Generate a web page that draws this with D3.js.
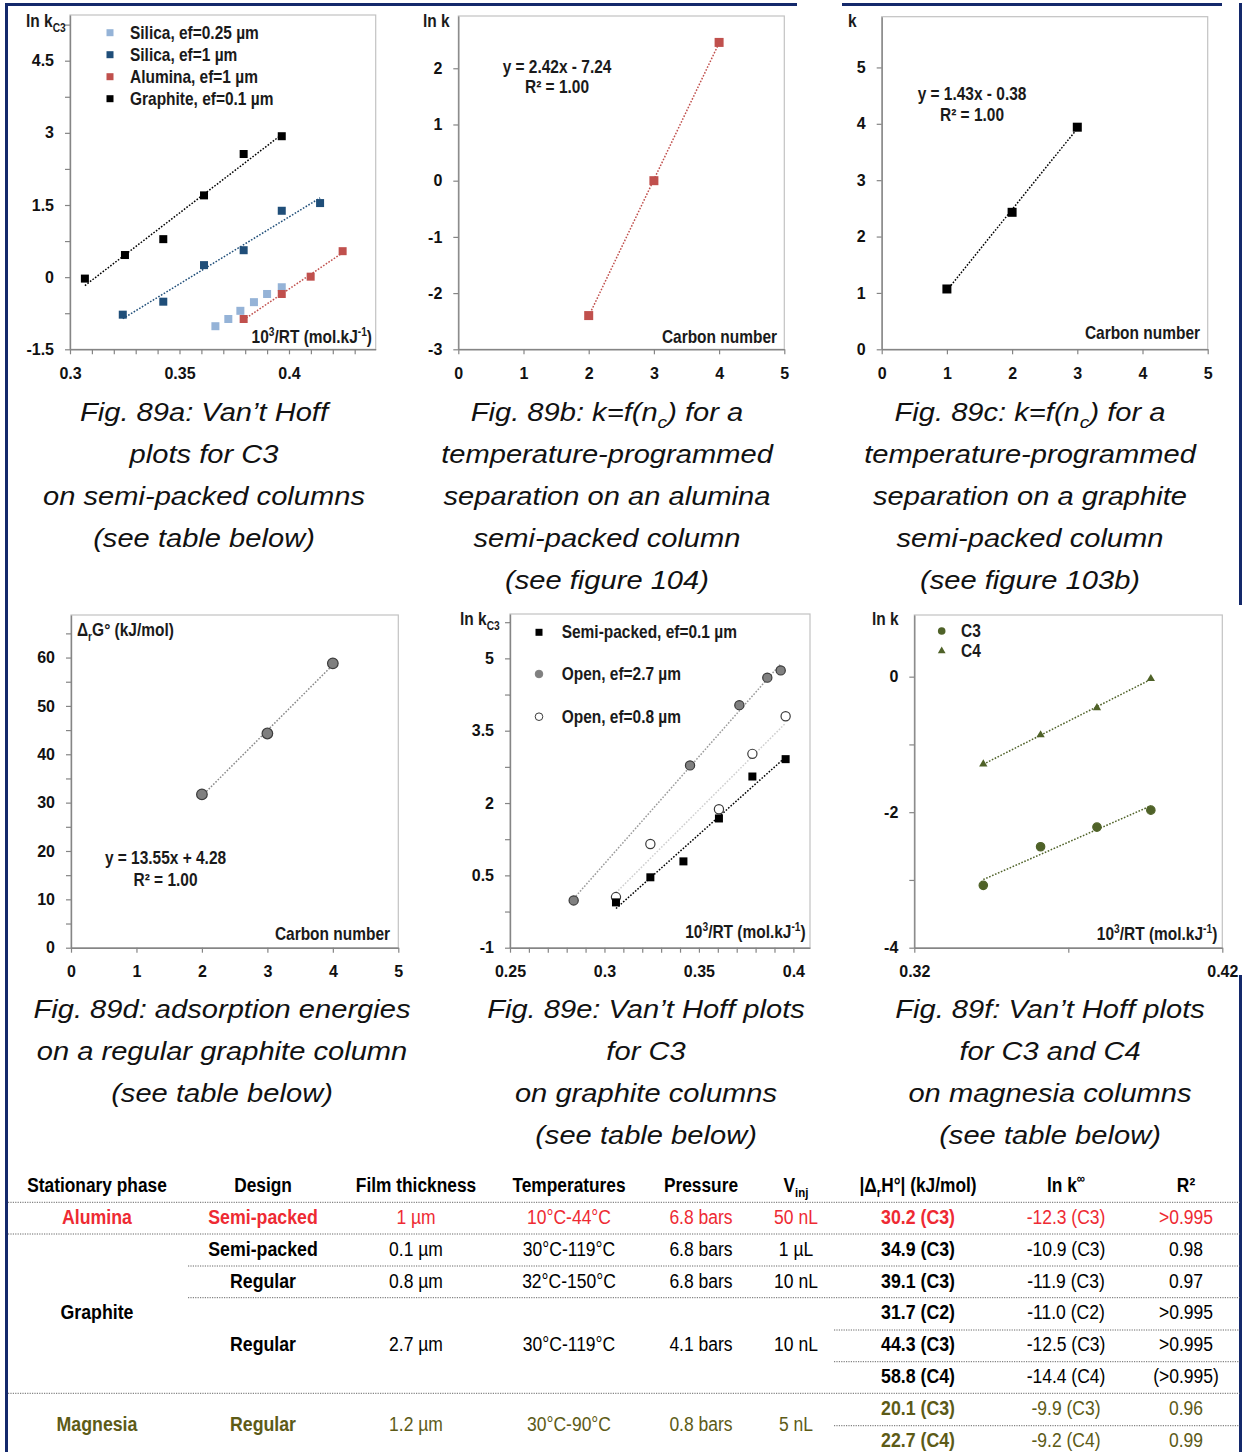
<!DOCTYPE html>
<html><head><meta charset="utf-8">
<script src="https://cdn.jsdelivr.net/npm/d3@7"></script>
<style>html,body{margin:0;padding:0;background:#fff;}svg{display:block;}</style>
</head><body>
<svg id="chart" width="1245" height="1452"></svg>
<script>
// ---------------- DATA ----------------
// Fig 89a : Van't Hoff plots (x = 10^3/RT, y = ln k C3)
const aGraphiteX = [0.3068, 0.3251, 0.3426, 0.3612, 0.3793, 0.3967];
const aGraphiteY = [-0.03, 0.46, 0.79, 1.70, 2.56, 2.93];
const aSilica1X  = [0.3241, 0.3426, 0.3612, 0.3793, 0.3967, 0.4142];
const aSilica1Y  = [-0.78, -0.51, 0.25, 0.56, 1.38, 1.54];
const aAluminaX  = [0.3793, 0.3967, 0.4099, 0.4245];
const aAluminaY  = [-0.87, -0.35, 0.01, 0.54];
const aSilica025X = [0.3664, 0.3723, 0.3778, 0.3840, 0.3900, 0.3967];
const aSilica025Y = [-1.02, -0.87, -0.70, -0.52, -0.35, -0.21];
const aLegend = ['Silica, ef=0.25 µm', 'Silica, ef=1 µm', 'Alumina, ef=1 µm', 'Graphite, ef=0.1 µm'];
const aXTicks = [0.3, 0.35, 0.4];
const aYTicks = [-1.5, 0, 1.5, 3, 4.5];

// Fig 89b : ln k = f(carbon number), alumina
const bCarbon = [2, 3, 4];
const bLnK = [-2.40, 0.00, 2.46];
const bXTicks = [0, 1, 2, 3, 4, 5];
const bYTicks = [-3, -2, -1, 0, 1, 2];

// Fig 89c : k = f(carbon number), graphite
const cCarbon = [1, 2, 3];
const cK = [1.07, 2.43, 3.94];
const cXTicks = [0, 1, 2, 3, 4, 5];
const cYTicks = [0, 1, 2, 3, 4, 5];

// Fig 89d : adsorption energies
const dCarbon = [2, 3, 4];
const dEnergy = [31.7, 44.3, 58.8];
const dXTicks = [0, 1, 2, 3, 4, 5];
const dYTicks = [0, 10, 20, 30, 40, 50, 60];

// Fig 89e : Van't Hoff plots on graphite columns
const eSemiX = [0.3061, 0.3243, 0.3418, 0.3606, 0.3783, 0.3959];
const eSemiY = [-0.06, 0.46, 0.79, 1.68, 2.55, 2.91];
const eOpen27X = [0.2837, 0.3453, 0.3714, 0.3862, 0.3933];
const eOpen27Y = [-0.02, 2.78, 4.03, 4.60, 4.75];
const eOpen08X = [0.3061, 0.3243, 0.3606, 0.3783, 0.3959];
const eOpen08Y = [0.05, 1.15, 1.87, 3.02, 3.80];
const eLegend = ['Semi-packed, ef=0.1 µm', 'Open, ef=2.7 µm', 'Open, ef=0.8 µm'];
const eXTicks = [0.25, 0.3, 0.35, 0.4];
const eYTicks = [-1, 0.5, 2, 3.5, 5];

// Fig 89f : Van't Hoff plots on magnesia
const fX = [0.3424, 0.3610, 0.3793, 0.3968];
const fC3 = [-3.08, -2.51, -2.22, -1.97];
const fC4 = [-1.29, -0.86, -0.46, -0.03];
const fLegend = ['C3', 'C4'];
const fXTicks = [0.32, 0.42];
const fYTicks = [-4, -2, 0];

// Table
const tHeaders = ['Stationary phase', 'Design', 'Film thickness', 'Temperatures', 'Pressure', 'V|inj', '|Δ|r|H°| (kJ/mol)', 'ln k|∞', 'R²'];
const tPhases = ['Alumina', 'Graphite', 'Magnesia'];
const tDesigns = ['Semi-packed', 'Semi-packed', 'Regular', 'Regular', 'Regular'];
const tFilms = ['1 µm', '0.1 µm', '0.8 µm', '2.7 µm', '1.2 µm'];
const tTemps = ['10°C-44°C', '30°C-119°C', '32°C-150°C', '30°C-119°C', '30°C-90°C'];
const tPressures = ['6.8 bars', '6.8 bars', '6.8 bars', '4.1 bars', '0.8 bars'];
const tVinj = ['50 nL', '1 µL', '10 nL', '10 nL', '5 nL'];
const tEnthalpy = ['30.2 (C3)', '34.9 (C3)', '39.1 (C3)', '31.7 (C2)', '44.3 (C3)', '58.8 (C4)', '20.1 (C3)', '22.7 (C4)'];
const tLnKinf = ['-12.3 (C3)', '-10.9 (C3)', '-11.9 (C3)', '-11.0 (C2)', '-12.5 (C3)', '-14.4 (C4)', '-9.9 (C3)', '-9.2 (C4)'];
const tR2 = ['>0.995', '0.98', '0.97', '>0.995', '>0.995', '(>0.995)', '0.96', '0.99'];

// ---------------- DRAWING ----------------
const SANS = "'Liberation Sans',Arial,Helvetica,sans-serif";
const NAVY = '#14296b';
const RED = '#ee2a33';
const OLIVE = '#5d5b17';
const svg = d3.select('#chart');
svg.append('rect').attr('width', 1245).attr('height', 1452).attr('fill', '#fff');

const fmt = v => String(Math.round(v * 1000) / 1000);

function rich(parent, x, y, parts, o) {
  const sx = o.sx || 1;
  const g = parent.append('g').attr('transform', `translate(${x},${y}) scale(${sx},1)`);
  const t = g.append('text')
    .attr('text-anchor', o.anchor || 'start')
    .attr('font-family', o.family || SANS)
    .attr('font-size', o.size)
    .attr('font-weight', o.weight || 'normal')
    .attr('font-style', o.style || 'normal')
    .attr('fill', o.fill || '#000');
  let shift = 0;
  parts.forEach(p => {
    const [s, k] = Array.isArray(p) ? p : [p, ''];
    const target = k === 'sub' ? o.size * 0.28 : (k === 'sup' ? -o.size * 0.4 : 0);
    const ts = t.append('tspan').text(s).attr('dy', target - shift);
    if (k) ts.attr('font-size', o.size * 0.66);
    shift = target;
  });
  return t;
}

function fit(xs, ys) {
  const mx = d3.mean(xs), my = d3.mean(ys);
  let sxy = 0, sxx = 0;
  xs.forEach((v, i) => { sxy += (v - mx) * (ys[i] - my); sxx += (v - mx) * (v - mx); });
  const b = sxy / sxx;
  return { a: my - b * mx, b };
}

function range(a, b, step) {
  const out = [];
  for (let v = a; v <= b + 1e-9; v += step) out.push(Math.round(v * 10000) / 10000);
  return out;
}

function panel(c) {
  const g = svg.append('g');
  const x = d3.scaleLinear().domain(c.xDomain).range([c.left, c.right]);
  const y = d3.scaleLinear().domain(c.yDomain).range([c.bottom, c.top]);
  g.append('rect').attr('x', c.left).attr('y', c.top)
    .attr('width', c.right - c.left).attr('height', c.bottom - c.top)
    .attr('fill', '#fff').attr('stroke', '#c2c2c2').attr('stroke-width', 1.2);
  const isMaj = (arr, v) => arr.some(m => Math.abs(m - v) < 1e-9);
  const xMinor = (c.xMinor || []).filter(v => !isMaj(c.xMajor, v));
  const yMinor = (c.yMinor || []).filter(v => !isMaj(c.yMajor, v));
  const gx = g.append('g').attr('transform', `translate(0,${c.bottom})`)
    .call(d3.axisBottom(x).tickValues(c.xMajor.concat(xMinor))
      .tickFormat(v => isMaj(c.xMajor, v) ? fmt(v) : '')
      .tickSizeInner(5).tickSizeOuter(0).tickPadding(13));
  const gy = g.append('g').attr('transform', `translate(${c.left},0)`)
    .call(d3.axisLeft(y).tickValues(c.yMajor.concat(yMinor))
      .tickFormat(v => isMaj(c.yMajor, v) ? fmt(v) : '')
      .tickSizeInner(5).tickSizeOuter(0).tickPadding(11));
  [gx, gy].forEach(a => {
    a.select('.domain').attr('stroke', '#858585').attr('stroke-width', 1.4);
    a.selectAll('.tick line').attr('stroke', '#858585').attr('stroke-width', 1.2);
    a.selectAll('.tick text').attr('font-family', SANS).attr('font-size', 16)
      .attr('font-weight', 'bold').attr('fill', '#111');
  });
  return { g, x, y };
}

function trend(p, xs, ys, color, w) {
  const f = fit(xs, ys);
  const ends = d3.extent(xs);
  p.g.append('path')
    .attr('d', d3.line().x(d => p.x(d)).y(d => p.y(f.a + f.b * d))(ends))
    .attr('fill', 'none').attr('stroke', color).attr('stroke-width', w || 1.5)
    .attr('stroke-dasharray', '1.6,1.6');
}
function squares(p, xs, ys, fill, s) {
  p.g.append('g').selectAll('rect').data(xs).join('rect')
    .attr('x', d => p.x(d) - s / 2).attr('y', (d, i) => p.y(ys[i]) - s / 2)
    .attr('width', s).attr('height', s).attr('fill', fill);
}
function circles(p, xs, ys, fill, stroke, r) {
  p.g.append('g').selectAll('circle').data(xs).join('circle')
    .attr('cx', d => p.x(d)).attr('cy', (d, i) => p.y(ys[i])).attr('r', r)
    .attr('fill', fill).attr('stroke', stroke).attr('stroke-width', 1.2);
}
function triangles(p, xs, ys, fill, area) {
  p.g.append('g').selectAll('path').data(xs).join('path')
    .attr('d', d3.symbol(d3.symbolTriangle, area))
    .attr('transform', (d, i) => `translate(${p.x(d)},${p.y(ys[i])})`)
    .attr('fill', fill);
}
// narrow bold look: Liberation Sans Bold squeezed horizontally
const LBL = { family: SANS, size: 18, weight: 'bold', fill: '#1a1a1a', sx: 0.86 };
const lbl = (o) => Object.assign({}, LBL, o || {});

// ---- Frame ----
svg.append('rect').attr('x', 5).attr('y', 3).attr('width', 792).attr('height', 3).attr('fill', NAVY);
svg.append('rect').attr('x', 842).attr('y', 3).attr('width', 380).attr('height', 3).attr('fill', NAVY);
svg.append('rect').attr('x', 5).attr('y', 3).attr('width', 3).attr('height', 1449).attr('fill', NAVY);
svg.append('rect').attr('x', 1239).attr('y', 3).attr('width', 3).attr('height', 602).attr('fill', NAVY);
svg.append('rect').attr('x', 1239).attr('y', 975).attr('width', 3).attr('height', 477).attr('fill', NAVY);

// ---- Panel a ----
const pa = panel({ left: 70, right: 375.7, top: 15, bottom: 349.3, xDomain: [0.3, 0.4396], yDomain: [-1.5, 5.45],
  xMajor: aXTicks, xMinor: range(0.31, 0.43, 0.01), yMajor: aYTicks, yMinor: [-0.75, 0.75, 2.25, 3.75, 5.25] });
trend(pa, aGraphiteX, aGraphiteY, '#000');
trend(pa, aSilica1X, aSilica1Y, '#1f4e79');
trend(pa, aAluminaX, aAluminaY, '#c0504d');
squares(pa, aSilica025X, aSilica025Y, '#95b3d7', 8);
squares(pa, aSilica1X, aSilica1Y, '#1f4e79', 8);
squares(pa, aAluminaX, aAluminaY, '#c0504d', 8);
squares(pa, aGraphiteX, aGraphiteY, '#000', 8);
const aColors = ['#95b3d7', '#1f4e79', '#c0504d', '#000'];
aLegend.forEach((t, i) => {
  const yy = 32.7 + i * 22;
  pa.g.append('rect').attr('x', 110 - 3.5).attr('y', yy - 3.5).attr('width', 7).attr('height', 7).attr('fill', aColors[i]);
  rich(pa.g, 130, yy + 6, [t], lbl());
});
rich(pa.g, 26, 27, ['ln k', ['C3', 'sub']], lbl());
rich(pa.g, 372, 343, ['10', ['3', 'sup'], '/RT (mol.kJ', ['-1', 'sup'], ')'], lbl({ anchor: 'end' }));

// ---- Panel b ----
const pb = panel({ left: 458.3, right: 784.3, top: 16, bottom: 349.3, xDomain: [0, 5], yDomain: [-3, 2.93],
  xMajor: bXTicks, yMajor: bYTicks });
trend(pb, bCarbon, bLnK, '#c0504d');
squares(pb, bCarbon, bLnK, '#c0504d', 9);
rich(pb.g, 423, 27, ['ln k'], lbl());
rich(pb.g, 557, 73, ['y = 2.42x - 7.24'], lbl({ anchor: 'middle' }));
rich(pb.g, 557, 93, ['R² = 1.00'], lbl({ anchor: 'middle' }));
rich(pb.g, 777, 343, ['Carbon number'], lbl({ anchor: 'end' }));

// ---- Panel c ----
const pc = panel({ left: 881.7, right: 1207.7, top: 16.7, bottom: 349.3, xDomain: [0, 5], yDomain: [0, 5.9],
  xMajor: cXTicks, yMajor: cYTicks });
trend(pc, cCarbon, cK, '#000');
squares(pc, cCarbon, cK, '#000', 9);
rich(pc.g, 848, 27, ['k'], lbl());
rich(pc.g, 972, 100, ['y = 1.43x - 0.38'], lbl({ anchor: 'middle' }));
rich(pc.g, 972, 121, ['R² = 1.00'], lbl({ anchor: 'middle' }));
rich(pc.g, 1200, 339, ['Carbon number'], lbl({ anchor: 'end' }));

// ---- Panel d ----
const pd = panel({ left: 71, right: 398.3, top: 615, bottom: 947.7, xDomain: [0, 5], yDomain: [0, 68.8],
  xMajor: dXTicks, yMajor: dYTicks, yMinor: [5, 15, 25, 35, 45, 55, 65] });
trend(pd, dCarbon, dEnergy, '#8a8a8a');
circles(pd, dCarbon, dEnergy, '#7f7f7f', '#3c3c3c', 5.3);
rich(pd.g, 77, 636, ['Δ', ['r', 'sub'], 'G° (kJ/mol)'], lbl());
rich(pd.g, 165.5, 864, ['y = 13.55x + 4.28'], lbl({ anchor: 'middle' }));
rich(pd.g, 165.5, 886, ['R² = 1.00'], lbl({ anchor: 'middle' }));
rich(pd.g, 390, 940, ['Carbon number'], lbl({ anchor: 'end' }));

// ---- Panel e ----
const pe = panel({ left: 510, right: 810, top: 614, bottom: 947.7, xDomain: [0.25, 0.4088], yDomain: [-1, 5.92],
  xMajor: eXTicks, xMinor: range(0.26, 0.40, 0.01), yMajor: eYTicks, yMinor: [-0.25, 1.25, 2.75, 4.25, 5.75] });
trend(pe, eOpen27X, eOpen27Y, '#9a9a9a');
trend(pe, eOpen08X, eOpen08Y, '#cfcfcf');
trend(pe, eSemiX, eSemiY, '#000');
circles(pe, eOpen27X, eOpen27Y, '#808080', '#3a3a3a', 4.6);
circles(pe, eOpen08X, eOpen08Y, '#fff', '#3a3a3a', 4.6);
squares(pe, eSemiX, eSemiY, '#000', 8);
[632.3, 674, 716.7].forEach((yy, i) => {
  if (i === 0) pe.g.append('rect').attr('x', 539 - 3.5).attr('y', yy - 3.5).attr('width', 7).attr('height', 7).attr('fill', '#000');
  else pe.g.append('circle').attr('cx', 539).attr('cy', yy).attr('r', 3.8)
    .attr('fill', i === 1 ? '#808080' : '#fff').attr('stroke', i === 1 ? '#808080' : '#3a3a3a').attr('stroke-width', 1);
  rich(pe.g, 561.7, yy + 6, [eLegend[i]], lbl());
});
rich(pe.g, 460, 625, ['ln k', ['C3', 'sub']], lbl());
rich(pe.g, 805.7, 938, ['10', ['3', 'sup'], '/RT (mol.kJ', ['-1', 'sup'], ')'], lbl({ anchor: 'end' }));

// ---- Panel f ----
const FG = '#4f6228';
const pf = panel({ left: 914.3, right: 1222.3, top: 615, bottom: 947.7, xDomain: [0.32, 0.42], yDomain: [-4, 0.91],
  xMajor: fXTicks, xMinor: [0.37], yMajor: fYTicks, yMinor: [-3, -1] });
trend(pf, fX, fC4, FG);
trend(pf, fX, fC3, FG);
circles(pf, fX, fC3, FG, FG, 4.2);
triangles(pf, fX, fC4, FG, 30);
pf.g.append('circle').attr('cx', 941.7).attr('cy', 631).attr('r', 3.8).attr('fill', FG);
pf.g.append('path').attr('d', d3.symbol(d3.symbolTriangle, 26)).attr('transform', 'translate(941.7,651)').attr('fill', FG);
rich(pf.g, 961, 637, [fLegend[0]], lbl());
rich(pf.g, 961, 657, [fLegend[1]], lbl());
rich(pf.g, 872, 624.5, ['ln k'], lbl());
rich(pf.g, 1217.3, 940, ['10', ['3', 'sup'], '/RT (mol.kJ', ['-1', 'sup'], ')'], lbl({ anchor: 'end' }));

// ---- Captions ----
const CAP = { family: SANS, size: 26, style: 'italic', anchor: 'middle', sx: 1.12, fill: '#111' };
const captions = [
  { cx: 204, y0: 420.7, lines: [['Fig. 89a: Van’t Hoff'], ['plots for C3'], ['on semi-packed columns'], ['(see table below)']] },
  { cx: 607, y0: 420.7, lines: [['Fig. 89b: k=f(n', ['c', 'sub'], ') for a'], ['temperature-programmed'], ['separation on an alumina'], ['semi-packed column'], ['(see figure 104)']] },
  { cx: 1030, y0: 420.7, lines: [['Fig. 89c: k=f(n', ['c', 'sub'], ') for a'], ['temperature-programmed'], ['separation on a graphite'], ['semi-packed column'], ['(see figure 103b)']] },
  { cx: 222, y0: 1017.7, lines: [['Fig. 89d: adsorption energies'], ['on a regular graphite column'], ['(see table below)']] },
  { cx: 646, y0: 1017.7, lines: [['Fig. 89e: Van’t Hoff plots'], ['for C3'], ['on graphite columns'], ['(see table below)']] },
  { cx: 1050, y0: 1017.7, lines: [['Fig. 89f: Van’t Hoff plots'], ['for C3 and C4'], ['on magnesia columns'], ['(see table below)']] }
];
captions.forEach(c => c.lines.forEach((ln, i) => rich(svg, c.cx, c.y0 + i * 42, ln, CAP)));

// ---- Table ----
const tg = svg.append('g');
const colX = [97, 263, 416, 569, 701, 796, 918, 1066, 1186];
const BOLD = { family: SANS, size: 21, weight: 'bold', anchor: 'middle', sx: 0.845 };
const REG = { family: SANS, size: 20, weight: 'normal', anchor: 'middle', sx: 0.875 };
const parseParts = s => {
  if (s === 'V|inj') return ['V', ['inj', 'sub']];
  if (s === '|Δ|r|H°| (kJ/mol)') return ['|Δ', ['r', 'sub'], 'H°| (kJ/mol)'];
  if (s === 'ln k|∞') return ['ln k', ['∞', 'sup']];
  return [s];
};
tHeaders.forEach((h, i) => rich(tg, colX[i], 1191.5, parseParts(h), Object.assign({}, BOLD, { size: 20.5, fill: '#000' })));

const subRowY = [1216, 1248, 1280, 1311, 1343, 1375, 1407, 1439];
const designRowY = [1216, 1248, 1280, 1343, 1423];
const designColor = [RED, '#000', '#000', '#000', OLIVE];
const subColor = [RED, '#000', '#000', '#000', '#000', '#000', OLIVE, OLIVE];
const phaseY = [1216, 1311, 1423];
const phaseColor = [RED, '#000', OLIVE];
const BASE = 7.5;
tPhases.forEach((p, i) => rich(tg, colX[0], phaseY[i] + BASE, [p], Object.assign({}, BOLD, { fill: phaseColor[i] })));
designRowY.forEach((yy, i) => {
  rich(tg, colX[1], yy + BASE, [tDesigns[i]], Object.assign({}, BOLD, { fill: designColor[i] }));
  rich(tg, colX[2], yy + BASE, [tFilms[i]], Object.assign({}, REG, { fill: designColor[i] }));
  rich(tg, colX[3], yy + BASE, [tTemps[i]], Object.assign({}, REG, { fill: designColor[i] }));
  rich(tg, colX[4], yy + BASE, [tPressures[i]], Object.assign({}, REG, { fill: designColor[i] }));
  rich(tg, colX[5], yy + BASE, [tVinj[i]], Object.assign({}, REG, { fill: designColor[i] }));
});
subRowY.forEach((yy, i) => {
  rich(tg, colX[6], yy + BASE, [tEnthalpy[i]], Object.assign({}, BOLD, { fill: subColor[i] }));
  rich(tg, colX[7], yy + BASE, [tLnKinf[i]], Object.assign({}, REG, { fill: subColor[i] }));
  rich(tg, colX[8], yy + BASE, [tR2[i]], Object.assign({}, REG, { fill: subColor[i] }));
});
const hl = (x1, x2, yy) => tg.append('line').attr('x1', x1).attr('x2', x2).attr('y1', yy).attr('y2', yy)
  .attr('stroke', '#666').attr('stroke-width', 1).attr('stroke-dasharray', '1.2,1.2');
hl(8, 1240, 1202.3);
hl(8, 1240, 1234);
hl(188, 1240, 1266);
hl(188, 1240, 1297.7);
hl(834, 1240, 1330);
hl(834, 1240, 1361.7);
hl(8, 1240, 1393.3);
hl(834, 1240, 1425.7);
</script>
</body></html>
